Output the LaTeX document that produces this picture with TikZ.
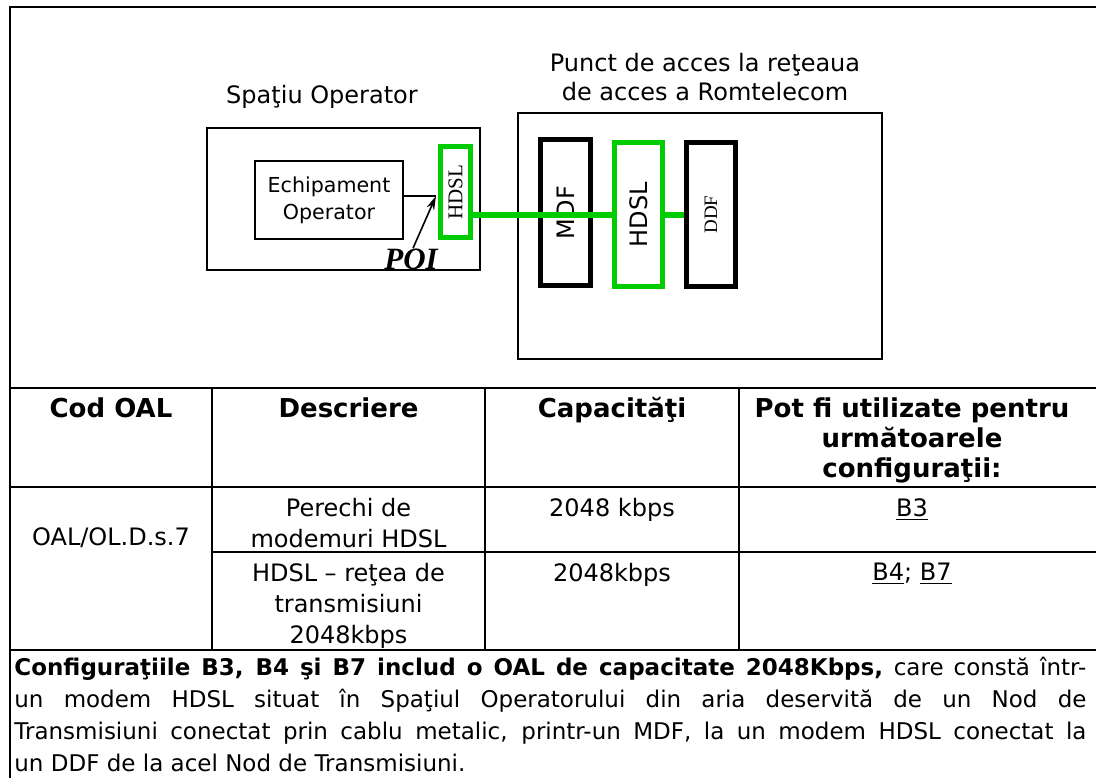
\documentclass[tikz,border=0pt]{standalone}
\usepackage{fontspec}
\setmainfont{DejaVu Sans}
\newfontfamily\serifft{Liberation Serif}
\usetikzlibrary{arrows.meta}

\definecolor{hdslgreen}{RGB}{0,204,0}

\tikzset{
    box/.style={draw, line width=0.75pt, inner sep=0pt},
    rack/.style={draw, line width=2.5pt, inner sep=0pt},
    link/.style={hdslgreen, line width=3pt},
    grid/.style={line width=1pt},
    title/.style={align=center, inner sep=0pt, font=\fontsize{12pt}{14.5pt}\selectfont},
    head/.style={anchor=north, align=center, inner sep=0pt, font=\bfseries\fontsize{13pt}{15pt}\selectfont},
    cell/.style={anchor=north, align=center, inner sep=0pt, font=\fontsize{12pt}{15.5pt}\selectfont}
}

\begin{document}
\begin{tikzpicture}[x=0.5pt, y=-0.5pt]
    \useasboundingbox (0,0) rectangle (1096,778);
    \fill[white] (0,0) rectangle (1096,778);

    % Frame
    \draw[line width=1.25pt] (10,778) -- (10,7) -- (1096,7);

    % Draw nodes (operator side)
    \node[title] (spatiu) at (322,97) {Spaţiu Operator};
    \node[box, minimum width=136.5pt, minimum height=71pt] (operator) at (343.5,199) {};
    \node[box, line width=0.6pt, minimum width=74pt, minimum height=39pt, align=center,
          font=\fontsize{10.3pt}{13.5pt}\selectfont] (echip) at (329,200) {Echipament\\Operator};
    \node[rack, draw=hdslgreen, minimum width=15pt, minimum height=45.5pt,
          font=\serifft\fontsize{10.5pt}{12pt}\selectfont] (hdslA) at (455.5,192) {\rotatebox{90}{HDSL}};
    \coordinate (poi) at (436,196);
    \node[inner sep=0pt, font=\serifft\bfseries\itshape\fontsize{15.5pt}{18pt}\selectfont] (poilabel) at (411,259) {POI};

    % Draw nodes (Romtelecom side)
    \node[title] (punct) at (705,77.5) {Punct de acces la reţeaua\\de acces a Romtelecom};
    \node[box, minimum width=182pt, minimum height=123pt] (romtel) at (700,236) {};
    \node[rack, minimum width=25pt, minimum height=73pt,
          font=\fontsize{12pt}{14pt}\selectfont] (mdf) at (565.5,212.5) {\rotatebox{90}{MDF}};
    \node[rack, draw=hdslgreen, minimum width=24pt, minimum height=72pt,
          font=\fontsize{12pt}{14pt}\selectfont] (hdslB) at (638.5,214.5) {\rotatebox{90}{HDSL}};
    \node[rack, minimum width=24.5pt, minimum height=72pt,
          font=\serifft\fontsize{9.5pt}{11pt}\selectfont] (ddf) at (711,214.5) {\rotatebox{90}{DDF}};

    % Draw edges
    \draw[line width=0.6pt] (echip.east |- poi) -- (poi);
    \draw[line width=0.8pt, -{Stealth[length=7pt, width=4pt]}] ([xshift=1pt]poilabel.north) -- (poi);
    \draw[link] (hdslA.east |- hdslB) -- (hdslB.west);
    \draw[link] (hdslB.east) -- (ddf.west);

    % Table grid
    \draw[grid] (10,388) -- (1096,388);
    \draw[grid] (10,487) -- (1096,487);
    \draw[grid] (212,552) -- (1096,552);
    \draw[grid] (10,650) -- (1096,650);
    \foreach \x in {212,485,739}
        \draw[grid] (\x,388) -- (\x,650);

    % Table text
    \node[head] (cod) at (111,397) {Cod OAL};
    \node[head] (descr) at (348.5,397) {Descriere};
    \node[head] (capac) at (612,397) {Capacităţi};
    \node[head] (config) at (912,397) {Pot fi utilizate pentru\\următoarele\\configuraţii:};
    \node[cell] (oal) at (111,527) {OAL/OL.D.s.7};
    \node[cell] (pereche) at (348.5,498) {Perechi de\\modemuri HDSL};
    \node[cell] (kbpsA) at (612,498) {2048 kbps};
    \node[cell] (cfgA) at (912,498) {\underline{B3}};
    \node[cell] (retea) at (348.5,563) {HDSL – reţea de\\transmisiuni\\2048kbps};
    \node[cell] (kbpsB) at (612,563) {2048kbps};
    \node[cell] (cfgB) at (912,563) {\underline{B4}; \underline{B7}};

    % Footer text
    \node[anchor=north west, inner sep=0pt, text width=536pt, align=justify,
          font=\fontsize{11.5pt}{16pt}\selectfont] (note) at (14,657)
        {\hyphenpenalty=10000\textbf{Configuraţiile B3, B4 şi B7 includ o OAL de capacitate 2048Kbps,} care constă într-\linebreak
         un modem HDSL situat în Spaţiul Operatorului din aria deservită de un Nod de\linebreak
         Transmisiuni conectat prin cablu metalic, printr-un MDF, la un modem HDSL conectat la\linebreak
         un DDF de la acel Nod de Transmisiuni.};
\end{tikzpicture}
\end{document}
